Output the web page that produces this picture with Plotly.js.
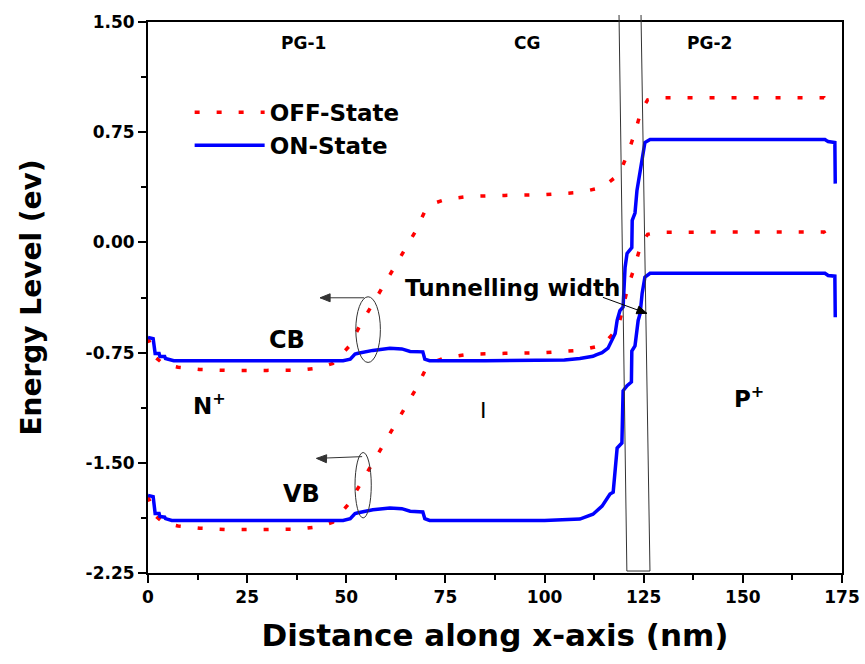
<!DOCTYPE html>
<html>
<head>
<meta charset="utf-8">
<script src="https://cdn.plot.ly/plotly-3.0.1.min.js"></script>
<style>html,body{margin:0;padding:0;background:#fff;}#chart{width:865px;height:664px;}</style>
</head>
<body>
<div id="chart"></div>
<script>
// ---- Data ----
const onCB_x = [0, 1.3, 1.8, 2.8, 3.0, 4.2, 4.4, 5.5, 6.5, 20, 35, 49.2, 51, 52.2, 53, 56.7, 61, 64, 66.1, 69.3, 69.8, 71, 85, 100, 105, 108.9, 112.2, 113, 114.5, 116, 116.5, 117.8, 118.3, 119.0, 119.8, 120.1, 120.3, 120.8, 122.0, 122.1, 122.8, 123.3, 123.6, 124.1, 124.6, 125.3, 126.6, 140, 155, 170.7, 171.5, 173.2, 173.3];
const onCB_y = [-0.647, -0.655, -0.756, -0.756, -0.776, -0.776, -0.79, -0.80, -0.805, -0.805, -0.805, -0.805, -0.795, -0.76, -0.755, -0.735, -0.72, -0.725, -0.742, -0.745, -0.795, -0.805, -0.805, -0.805, -0.80, -0.79, -0.775, -0.765, -0.75, -0.72, -0.69, -0.62, -0.53, -0.465, -0.44, -0.25, -0.17, -0.075, -0.035, 0.15, 0.20, 0.354, 0.40, 0.49, 0.58, 0.68, 0.70, 0.70, 0.70, 0.70, 0.686, 0.68, 0.40];

const onVB_x = [0, 1.3, 1.8, 2.8, 3.0, 4.2, 4.4, 6.0, 20, 35, 49.2, 51, 52.2, 53, 56.7, 61, 64, 66.1, 69.3, 69.8, 71, 85, 100, 108.9, 112.2, 114.5, 116.5, 117.3, 117.8, 118.3, 119.5, 119.8, 120.8, 121.9, 122.0, 122.8, 123.6, 124.1, 124.6, 125.3, 126.6, 140, 155, 170.7, 171.5, 173.2, 173.3];
const onVB_y = [-1.722, -1.73, -1.845, -1.845, -1.865, -1.87, -1.88, -1.892, -1.892, -1.892, -1.892, -1.88, -1.845, -1.84, -1.82, -1.808, -1.812, -1.83, -1.835, -1.88, -1.892, -1.892, -1.892, -1.883, -1.85, -1.795, -1.712, -1.70, -1.566, -1.40, -1.365, -1.01, -0.975, -0.95, -0.74, -0.705, -0.531, -0.483, -0.347, -0.237, -0.21, -0.21, -0.21, -0.21, -0.225, -0.23, -0.51];

const offCB_x = [0, 1.8, 4, 7.6, 13, 20, 30, 38, 43, 46.6, 50.7, 53.2, 56, 59, 61.5, 64.5, 67.3, 69.8, 72, 75.1, 80.7, 90, 100, 108.9, 114.5, 118.8, 121.0, 122.8, 124.3, 126, 128.3, 140, 160, 170.5, 172.1];
const offCB_y = [-0.65, -0.78, -0.83, -0.85, -0.865, -0.871, -0.871, -0.87, -0.855, -0.824, -0.708, -0.578, -0.449, -0.313, -0.191, -0.061, 0.068, 0.211, 0.265, 0.293, 0.313, 0.32, 0.325, 0.34, 0.374, 0.463, 0.606, 0.749, 0.892, 0.97, 0.985, 0.985, 0.985, 0.985, 0.912];

const offVB_x = [0, 1.8, 4, 7.6, 13, 20, 30, 38, 43, 46.6, 50.7, 53.2, 56, 59, 61.5, 64.5, 67.3, 69.8, 72, 75.1, 80.7, 90, 100, 108.9, 114.6, 118.5, 121.0, 122.8, 124.3, 126, 128.3, 140, 160, 170.5, 172.1];
const offVB_y = [-1.73, -1.86, -1.91, -1.93, -1.945, -1.954, -1.954, -1.952, -1.935, -1.905, -1.777, -1.66, -1.53, -1.395, -1.27, -1.14, -1.01, -0.875, -0.815, -0.783, -0.762, -0.755, -0.75, -0.735, -0.70, -0.585, -0.306, -0.157, -0.014, 0.055, 0.068, 0.07, 0.07, 0.07, 0.002];

const xTicks = [0, 25, 50, 75, 100, 125, 150, 175];
const yTicks = [1.5, 0.75, 0, -0.75, -1.5, -2.25];
const yTickText = ['1.50', '0.75', '0.00', '-0.75', '-1.50', '-2.25'];

// ---- Styling ----
const FONT = 'DejaVu Sans, Arial, sans-serif';
const RED = '#ff0000';
const BLUE = '#0000ff';
const redLine = {color: RED, width: 3.5, dash: '5px,17px'};
const blueLine = {color: BLUE, width: 3.5};

const traces = [
  {x: offCB_x, y: offCB_y, mode: 'lines', name: 'OFF-State', line: redLine, legendgroup: 'off', showlegend: true},
  {x: offVB_x, y: offVB_y, mode: 'lines', name: 'OFF-State', line: redLine, legendgroup: 'off', showlegend: false},
  {x: onCB_x, y: onCB_y, mode: 'lines', name: 'ON-State', line: blueLine, legendgroup: 'on', showlegend: true},
  {x: onVB_x, y: onVB_y, mode: 'lines', name: 'ON-State', line: blueLine, legendgroup: 'on', showlegend: false}
];

function txt(text, x, y, size, bold) {
  return {text: bold === false ? text : '<b>' + text + '</b>', x: x, y: y, xref: 'x', yref: 'y', showarrow: false,
          font: {family: FONT, size: size, color: '#000'}};
}

// arrow drawn as a line shape plus a pixel-sized head anchored at the tip
function arrowShapes(tipX, tipY, tailX, tailY, angleDeg, color) {
  const a = angleDeg * Math.PI / 180;      // direction the arrow points (screen, y up)
  const L = 10, W = 4;
  const bx = -Math.cos(a) * L, by = -Math.sin(a) * L;
  const px = -Math.sin(a) * W, py = Math.cos(a) * W;
  const path = 'M 0 0 L ' + (bx + px).toFixed(2) + ' ' + (by + py).toFixed(2) +
               ' L ' + (bx - px).toFixed(2) + ' ' + (by - py).toFixed(2) + ' Z';
  return [
    {type: 'line', xref: 'x', yref: 'y', x0: tailX, y0: tailY, x1: tipX, y1: tipY, line: {color: color, width: 1}},
    {type: 'path', xref: 'x', yref: 'y', xsizemode: 'pixel', ysizemode: 'pixel', xanchor: tipX, yanchor: tipY,
     path: path, fillcolor: color, line: {color: color, width: 1}}
  ];
}

const layout = {
  width: 865, height: 664,
  margin: {l: 148, r: 23, t: 22, b: 91},
  paper_bgcolor: '#fff', plot_bgcolor: '#fff',
  font: {family: FONT, color: '#000'},
  showlegend: true,
  legend: {x: 0.06, y: 0.875, xanchor: 'left', yanchor: 'top', bgcolor: 'rgba(0,0,0,0)',
           font: {family: FONT, size: 23, color: '#000', weight: 'bold'}, itemwidth: 70, tracegroupgap: 0},
  xaxis: {
    range: [0, 175], tickvals: xTicks, ticktext: xTicks.map(String),
    showgrid: false, zeroline: false, showline: true, linecolor: '#000', linewidth: 2, mirror: true,
    ticks: 'outside', ticklen: 8, tickwidth: 2, tickcolor: '#000',
    minor: {dtick: 12.5, tick0: 0, ticks: 'outside', ticklen: 5, tickwidth: 2, tickcolor: '#000', showgrid: false},
    tickfont: {family: FONT, size: 17, color: '#000', weight: 'bold'},
    title: {text: '<b>Distance along x-axis (nm)</b>', font: {family: FONT, size: 31, color: '#000'}, standoff: 18}
  },
  yaxis: {
    range: [-2.25, 1.5], tickvals: yTicks, ticktext: yTickText,
    showgrid: false, zeroline: false, showline: true, linecolor: '#000', linewidth: 2, mirror: true,
    ticks: 'outside', ticklen: 8, tickwidth: 2, tickcolor: '#000',
    minor: {dtick: 0.375, tick0: 0, ticks: 'outside', ticklen: 5, tickwidth: 2, tickcolor: '#000', showgrid: false},
    tickfont: {family: FONT, size: 17, color: '#000', weight: 'bold'},
    title: {text: '<b>Energy Level (ev)</b>', font: {family: FONT, size: 28, color: '#000'}, standoff: 36}
  },
  shapes: [
    // tunnelling-width frame (U-shaped, tilted)
    {type: 'path', xref: 'paper', yref: 'paper',
     path: 'M 0.6787 1.0127 L 0.690 0.0036 L 0.7233 0.0036 L 0.7104 1.0127',
     line: {color: '#333', width: 1}, fillcolor: 'rgba(0,0,0,0)'},
    // ellipses around CB and VB transitions
    {type: 'circle', xref: 'x', yref: 'y', x0: 52.4, x1: 58.6, y0: -0.37, y1: -0.817, line: {color: '#333', width: 1}},
    {type: 'circle', xref: 'x', yref: 'y', x0: 52.2, x1: 56.3, y0: -1.43, y1: -1.875, line: {color: '#333', width: 1}}
  ].concat(
    arrowShapes(43.4, -0.377, 54.5, -0.377, 180, '#333'),
    arrowShapes(42.5, -1.47, 54.0, -1.458, 178, '#333'),
    arrowShapes(125.8, -0.483, 114.7, -0.374, -20, '#000')
  ),
  annotations: [
    txt('PG-1', 39.1, 1.355, 17),
    txt('CG', 95.6, 1.355, 17),
    txt('PG-2', 141.7, 1.355, 17),
    txt('Tunnelling width', 92.0, -0.313, 23),
    txt('CB', 35.0, -0.667, 24),
    txt('VB', 38.8, -1.709, 24),
    txt('N<sup>+</sup>', 15.5, -1.10, 23),
    txt('I', 84.5, -1.144, 22, false),
    txt('P<sup>+</sup>', 151.5, -1.05, 23)
  ]
};

Plotly.newPlot('chart', traces, layout, {displayModeBar: false, staticPlot: true});
</script>
</body>
</html>
